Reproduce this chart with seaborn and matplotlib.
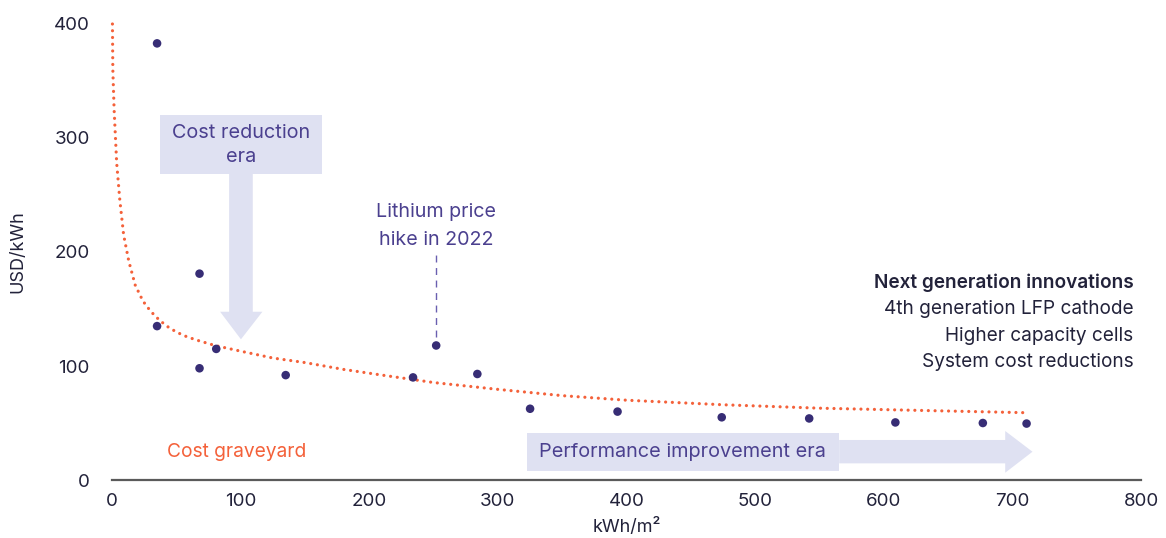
import matplotlib
matplotlib.use("Agg")
import matplotlib.pyplot as plt
from matplotlib.patches import Polygon, Rectangle
import pandas as pd
import seaborn as sns

# Battery system data points: energy density vs. cost
density_kwh_m2 = [35, 35, 68, 68, 81, 135, 234, 252, 284, 325, 393, 474, 542, 609, 677, 711]
cost_usd_kwh = [383, 135, 181, 98, 115, 92, 90, 118, 93, 62.5, 60, 55, 54, 50.5, 50, 49.5]

# Cost trend curve
trend_x = [0.3, 0.6, 1.6, 3.6, 6, 9, 13, 18, 24, 30, 37, 45, 55, 65, 80, 100,
           125, 150, 180, 210, 250, 300, 350, 400, 475, 550, 630, 712]
trend_y = [400, 360, 325, 278, 246, 215, 192, 171, 157, 148, 140, 133, 127, 123, 118, 113,
           107, 103, 97, 92, 85.5, 79.5, 74, 70, 66, 63, 61, 59]

x_ticks = [0, 100, 200, 300, 400, 500, 600, 700, 800]
y_ticks = [0, 100, 200, 300, 400]

innovation_lines = ["4th generation LFP cathode", "Higher capacity cells", "System cost reductions"]

NAVY = "#372d75"
ORANGE = "#f4613a"
LAVENDER = "#dfe1f2"
ARROW_TEXT = "#4b408f"
INK = "#22223a"

sns.set_theme(style="white")
plt.rcParams["font.family"] = ["Inter", "DejaVu Sans"]

fig = plt.figure(figsize=(11.66, 5.38), dpi=100)
ax = fig.add_axes([0.0961, 0.1078, 0.8825, 0.8476])

points = pd.DataFrame({"density": density_kwh_m2, "cost": cost_usd_kwh})
trend = pd.DataFrame({"density": trend_x, "cost": trend_y})

# Arrows (drawn first so marks sit on top)
# Cost reduction era: label box with a downward arrow
ax.add_patch(Rectangle((37.3, 268.7), 125.7, 51.5, facecolor=LAVENDER, edgecolor="none", zorder=1))
ax.add_patch(Polygon([(91, 268.7), (109.4, 268.7), (109.4, 147.6), (116.9, 147.6),
                      (100.2, 123.4), (84, 147.6), (91, 147.6)],
                     closed=True, facecolor=LAVENDER, edgecolor="none", zorder=1))
ax.text(100.2, 304.4, "Cost reduction", ha="center", va="center", fontsize=14.3, color=ARROW_TEXT, zorder=2)
ax.text(100.2, 283.3, "era", ha="center", va="center", fontsize=14.3, color=ARROW_TEXT, zorder=2)

# Performance improvement era: label box with a rightward arrow
ax.add_patch(Rectangle((322.9, 8.2), 242.4, 33.3, facecolor=LAVENDER, edgecolor="none", zorder=1))
ax.add_patch(Polygon([(565.3, 35.1), (694.4, 35.1), (694.4, 43), (715.6, 24.8),
                      (694.4, 6.4), (694.4, 14.6), (565.3, 14.6)],
                     closed=True, facecolor=LAVENDER, edgecolor="none", zorder=1))
ax.text(332, 24.6, "Performance improvement era", ha="left", va="center",
        fontsize=14.3, color=ARROW_TEXT, zorder=2)

# Trend curve and data points
sns.lineplot(data=trend, x="density", y="cost", sort=False, ax=ax, color=ORANGE,
             linewidth=2.3, linestyle=(0, (0.01, 2.1)), dash_capstyle="round",
             zorder=3, clip_on=False)
sns.scatterplot(data=points, x="density", y="cost", ax=ax, color=NAVY, s=38,
                edgecolor="none", zorder=4, clip_on=False)

# Lithium price callout
ax.plot([252, 252], [125.7, 197.4], color="#6a5fb0", linewidth=1, linestyle=(0, (5, 4)), zorder=2)
ax.text(252, 235, "Lithium price", ha="center", va="center", fontsize=14.2, color=ARROW_TEXT)
ax.text(252, 210.5, "hike in 2022", ha="center", va="center", fontsize=14.2, color=ARROW_TEXT)

ax.text(43, 24.3, "Cost graveyard", ha="left", va="center", fontsize=13.8, color=ORANGE)

# Next generation innovations
ax.text(794, 172.8, "Next generation innovations", ha="right", va="center",
        fontsize=13.7, fontweight="semibold", color=INK)
for i, line in enumerate(innovation_lines):
    ax.text(794, 150 - i * 23.3, line, ha="right", va="center", fontsize=13.7, color=INK)

ax.set_xlim(0, 800)
ax.set_ylim(0, 400)
ax.set_xticks(x_ticks)
ax.set_yticks(y_ticks)
ax.tick_params(axis="both", length=0, labelsize=13.5, labelcolor=INK)
ax.tick_params(axis="y", pad=16)
ax.tick_params(axis="x", pad=9)
ax.set_xlabel("kWh/m²", fontsize=13, color=INK, labelpad=6)
ax.set_ylabel("USD/kWh", fontsize=13, color=INK, labelpad=20)

for side in ["left", "right", "top"]:
    ax.spines[side].set_visible(False)
ax.spines["bottom"].set_color("#5a5a5a")
ax.spines["bottom"].set_linewidth(1.6)
ax.grid(False)

fig.savefig("out.png", dpi=100)
